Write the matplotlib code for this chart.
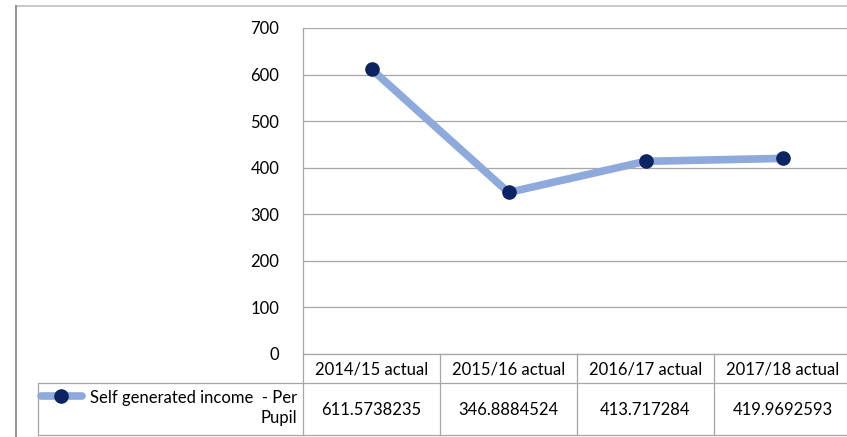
import matplotlib
matplotlib.use("Agg")
import matplotlib.pyplot as plt
from matplotlib.lines import Line2D

categories = ["2014/15 actual", "2015/16 actual", "2016/17 actual", "2017/18 actual"]
values = [611.5738235, 346.8884524, 413.717284, 419.9692593]
value_labels = ["611.5738235", "346.8884524", "413.717284", "419.9692593"]
series_name = "Self generated income  - Per\nPupil"
yticks = [0, 100, 200, 300, 400, 500, 600, 700]

W, H = 847, 437
plt.rcParams['font.family'] = ['Lato', 'DejaVu Sans']
fig = plt.figure(figsize=(W / 100, H / 100), dpi=100)

def fx(px):
    return px / W

def fy(py):
    return 1 - py / H

line_col = "#8EA9DB"
mk_col = "#0C2461"
grid_col = "#A6A6A6"
fs = 12

ax_left, ax_right = 303, 851
ax_top, ax_bot = 28, 354
ax = fig.add_axes([fx(ax_left), fy(ax_bot), fx(ax_right - ax_left), (ax_bot - ax_top) / H])
x = list(range(len(categories)))
ax.plot(x, values, color=line_col, lw=5.5, solid_capstyle='round', zorder=3, clip_on=False)
ax.plot(x, values, ls='none', marker='o', ms=9.5, color=mk_col, zorder=4, clip_on=False)
ax.set_xlim(-0.5, len(categories) - 0.5)
ax.set_ylim(0, 700)
ax.set_yticks(yticks)
ax.set_yticklabels([str(t) for t in yticks], fontsize=fs)
ax.tick_params(axis='y', length=0, pad=17)
ax.set_xticks([])
ax.grid(axis='y', color=grid_col, lw=0.9)
ax.set_axisbelow(True)
for s in ['top', 'right', 'bottom']:
    ax.spines[s].set_visible(False)
ax.spines['left'].set_color(grid_col)
ax.spines['left'].set_linewidth(0.9)

def hline(x0, x1, y, col=grid_col, lw=0.9):
    fig.add_artist(Line2D([fx(x0), fx(x1)], [fy(y), fy(y)], color=col, lw=lw))

def vline(xp, y0, y1, col=grid_col, lw=0.9):
    fig.add_artist(Line2D([fx(xp), fx(xp)], [fy(y0), fy(y1)], color=col, lw=lw))

# outer frame
hline(16, W, 6, col="#BFBFBF", lw=1.2)
vline(16, 6, H, col="#808080", lw=1.2)

# table
row1_top, row1_bot, row2_bot = 354, 383, 435
tbl_left = 38
hline(ax_left, W, row1_top)
hline(tbl_left, W, row1_bot)
hline(tbl_left, W, row2_bot)
vline(tbl_left, row1_bot, row2_bot)
col_w = (ax_right - ax_left) / len(categories)
for i in range(len(categories) + 1):
    vline(ax_left + i * col_w, row1_top, row2_bot)

for i, (c, v) in enumerate(zip(categories, value_labels)):
    xc = fx(ax_left + (i + 0.5) * col_w)
    fig.text(xc, fy((row1_top + row1_bot) / 2 + 1), c, ha='center', va='center', fontsize=fs)
    fig.text(xc, fy((row1_bot + row2_bot) / 2 + 1), v, ha='center', va='center', fontsize=fs)

# legend key in table
fig.add_artist(Line2D([fx(41), fx(82)], [fy(396), fy(396)], color=line_col, lw=5.5, solid_capstyle='round'))
fig.add_artist(Line2D([fx(61)], [fy(396)], ls='none', marker='o', ms=9.5, color=mk_col))
fig.text(fx(297), fy(408), series_name, ha='right', va='center', fontsize=fs, linespacing=1.3, multialignment='right')

fig.savefig("out.png", dpi=100)
